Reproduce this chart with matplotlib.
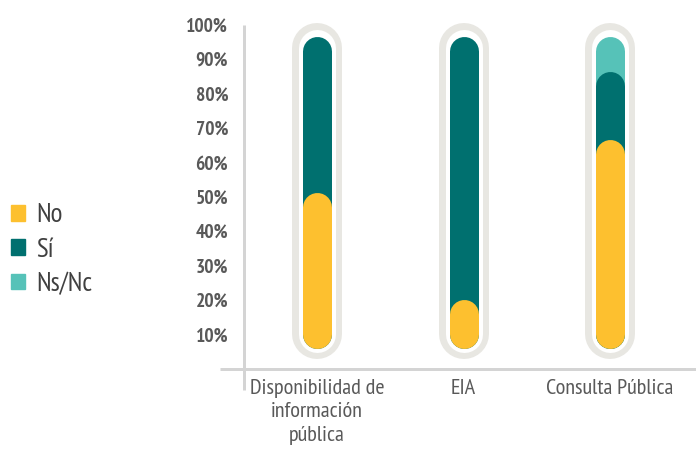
import matplotlib
matplotlib.use('Agg')
import matplotlib.pyplot as plt
from matplotlib.patches import Patch

# datos (en la escala del eje, base de las barras = 10%)
categorias = ["Disponibilidad de\ninformación\npública", "EIA", "Consulta Pública"]
base = 10.0
no = [36.9, 6.0, 52.3]
si = [45.4, 76.3, 19.8]
nsnc = [0.0, 0.0, 10.2]
marco_top = 93.3
yticks = [10, 20, 30, 40, 50, 60, 70, 80, 90, 100]

c_no = '#FDC02F'
c_si = '#00706F'
c_nsnc = '#56C2B8'
c_marco = '#E8E7E2'
c_eje = '#D4D4D4'

plt.rcParams['font.family'] = ['PT Sans Narrow', 'DejaVu Sans']

fig = plt.figure(figsize=(6.96, 4.5), dpi=100)
ax = fig.add_axes([243.5 / 696, 81.1 / 450, 452.5 / 696, 344.4 / 450])
ax.set_xlim(-0.502, 2.587)
ax.set_ylim(0, 100)

px = 72 / 100  # puntos por pixel
for i in range(len(categorias)):
    # marco gris y hueco blanco
    ax.plot([i, i], [base, marco_top], color=c_marco, lw=50 * px,
            solid_capstyle='round', zorder=1, clip_on=False)
    ax.plot([i, i], [base, marco_top], color='white', lw=37 * px,
            solid_capstyle='round', zorder=2, clip_on=False)
    t_no = base + no[i]
    t_si = t_no + si[i]
    t_ns = t_si + nsnc[i]
    if nsnc[i] > 0:
        ax.plot([i, i], [base, t_ns], color=c_nsnc, lw=29 * px,
                solid_capstyle='round', zorder=3, clip_on=False)
    ax.plot([i, i], [base, t_si], color=c_si, lw=29 * px,
            solid_capstyle='round', zorder=4, clip_on=False)
    ax.plot([i, i], [base, t_no], color=c_no, lw=29 * px,
            solid_capstyle='round', zorder=5, clip_on=False)

for s in ax.spines.values():
    s.set_visible(False)

# ejes dibujados a mano (se cruzan)
ax.plot([0, 0], [-0.0625, 1.0], color=c_eje, lw=3 * px, transform=ax.transAxes,
        clip_on=False, solid_capstyle='butt')
ax.plot([-0.052, 1.0], [0, 0], color=c_eje, lw=3 * px, transform=ax.transAxes,
        clip_on=False, solid_capstyle='butt')

ax.set_yticks(yticks)
ax.set_yticklabels([f"{v}%" for v in yticks], fontsize=14, fontweight='bold',
                   color='#595959')
ax.set_xticks(range(len(categorias)))
ax.set_xticklabels(categorias, fontsize=16, color='#595959', linespacing=1.3)
ax.tick_params(axis='y', length=0, pad=11)
ax.tick_params(axis='x', length=0, pad=7)

handles = [Patch(color=c_no, label='No'), Patch(color=c_si, label='Sí'),
           Patch(color=c_nsnc, label='Ns/Nc')]
fig.legend(handles=handles, loc='center left', bbox_to_anchor=(0.016, 0.445),
           frameon=False, fontsize=19.5, handlelength=0.5, handleheight=0.5,
           handletextpad=0.42, labelspacing=0.38, labelcolor='#404040',
           borderaxespad=0, borderpad=0)

fig.savefig('out.png', dpi=100)
